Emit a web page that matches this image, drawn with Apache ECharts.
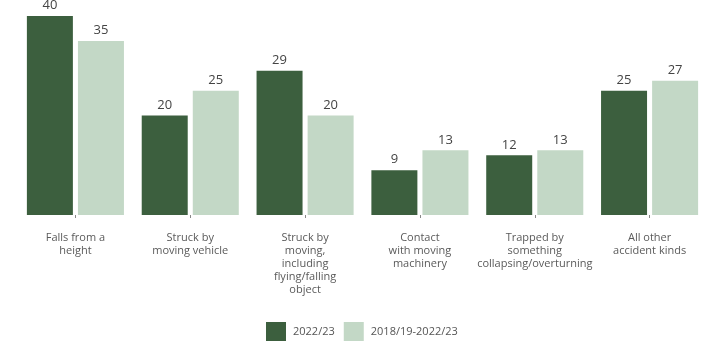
<!DOCTYPE html>
<html>
<head>
<meta charset="utf-8">
<script src="https://cdn.jsdelivr.net/npm/echarts@6/dist/echarts.min.js"></script>
<style>
  html, body { margin: 0; padding: 0; background: #ffffff; }
  #chart { width: 707px; height: 343px; }
</style>
</head>
<body>
<div id="chart"></div>
<script>
// Fatal injuries by accident kind
const categories = [
  "Falls from a\nheight",
  "Struck by\nmoving vehicle",
  "Struck by\nmoving,\nincluding\nflying/falling\nobject",
  "Contact\nwith moving\nmachinery",
  "Trapped by\nsomething\ncollapsing/overturning",
  "All other\naccident kinds"
];
const seriesNames = ["2022/23", "2018/19-2022/23"];
const values2022 = [40, 20, 29, 9, 12, 25];
const valuesAvg = [35, 25, 20, 13, 13, 27];

const DARK = "#3c5f3e";
const LIGHT = "#c3d8c6";
const FONT = "Open Sans, Liberation Sans, sans-serif";

const chart = echarts.init(document.getElementById("chart"), null, { renderer: "canvas" });

const labelStyle = {
  show: true,
  position: "top",
  distance: 4,
  color: "#444444",
  fontSize: 13,
  fontFamily: FONT
};

chart.setOption({
  animation: false,
  backgroundColor: "#ffffff",
  grid: { left: 18, right: 0, top: 16, bottom: 128, containLabel: false },
  legend: {
    data: seriesNames,
    top: 322,
    left: 266,
    padding: 0,
    itemWidth: 20,
    itemHeight: 19,
    itemGap: 9,
    icon: "rect",
    textStyle: { color: "#555555", fontSize: 11, fontFamily: FONT, padding: [0, 0, 0, 2] }
  },
  xAxis: {
    type: "category",
    data: categories,
    offset: 10,
    axisLine: { show: false },
    axisTick: { show: true, alignWithLabel: true, length: 3, lineStyle: { color: "#888888" } },
    axisLabel: {
      color: "#5a5a5a",
      fontSize: 11,
      fontFamily: FONT,
      lineHeight: 13,
      margin: 6,
      interval: 0
    }
  },
  yAxis: {
    type: "value",
    min: 0,
    max: 40,
    show: false,
    splitLine: { show: false }
  },
  series: [
    {
      name: seriesNames[0],
      type: "bar",
      data: values2022,
      itemStyle: { color: DARK },
      barWidth: 46,
      barGap: "11%",
      label: labelStyle
    },
    {
      name: seriesNames[1],
      type: "bar",
      data: valuesAvg,
      itemStyle: { color: LIGHT },
      barWidth: 46,
      label: labelStyle
    }
  ]
});
</script>
</body>
</html>
